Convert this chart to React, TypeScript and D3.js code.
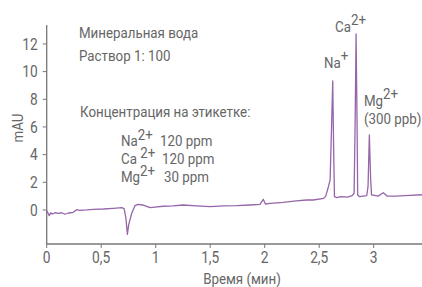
import * as d3 from 'd3';
import { useEffect } from 'react';
import type { ReactNode } from 'react';

const WIDTH = 422;
const HEIGHT = 287;

// retention time (min) and detector signal (mAU)
const times = [
  0, 0.024, 0.037, 0.05, 0.076, 0.107, 0.138, 0.168, 0.199, 0.244, 0.275, 0.3,
  0.367, 0.428, 0.52, 0.61, 0.688, 0.71, 0.727, 0.74, 0.752, 0.78, 0.81, 0.84,
  0.88, 0.948, 0.99, 1.07, 1.16, 1.25, 1.376, 1.5, 1.62, 1.74, 1.865, 1.957,
  1.987, 2.006, 2.05, 2.17, 2.29, 2.385, 2.446, 2.54, 2.56, 2.585, 2.6, 2.615,
  2.624, 2.633, 2.64, 2.66, 2.7, 2.76, 2.8, 2.82, 2.83, 2.838, 2.847, 2.853,
  2.87, 2.936, 2.948, 2.96, 2.972, 2.98, 2.997, 3.04, 3.088, 3.125, 3.2, 3.33,
  3.443,
];
const signal = [
  -0.05, -0.41, -0.2, -0.3, -0.2, -0.24, -0.2, -0.31, -0.22, -0.17, 0.02, -0.03,
  0.0, 0.05, 0.07, 0.12, 0.17, 0.1, -0.6, -1.76, -1.08, -0.24, 0.31, 0.41,
  0.36, 0.17, 0.2, 0.27, 0.3, 0.36, 0.29, 0.24, 0.29, 0.31, 0.36, 0.41,
  0.77, 0.43, 0.48, 0.55, 0.65, 0.72, 0.72, 0.84, 1.0, 1.7, 2.17, 6.5,
  9.33, 4.1, 0.96, 0.89, 0.96, 0.93, 1.03, 1.2, 6.5, 12.73, 6.5, 1.08,
  0.96, 1.03, 1.7, 5.42, 2.2, 1.08, 1.08, 1.0, 1.25, 1.0, 1.0, 1.06,
  1.1,
];

const xTicks = [0, 0.5, 1, 1.5, 2, 2.5, 3];
const yTicks = [0, 2, 4, 6, 8, 10, 12];

const labelIons = ['Na', 'Ca', 'Mg'];
const labelCharges = ['2+', '2+', '2+'];
const labelConc = ['120 ppm', '120 ppm', '30 ppm'];

const FONT = 'Roboto, "Noto Sans", sans-serif';
const TEXT = '#666';
const AXIS = '#777';
const LINE = '#9566a8';
const SQUEEZE = 0.86; // the original uses a condensed face

// text squeezed horizontally around its anchor point
function CText(props: {
  x: number;
  y: number;
  size: number;
  anchor?: 'start' | 'middle' | 'end';
  rotate?: number;
  children: ReactNode;
}) {
  const { x, y, size, anchor = 'start', rotate = 0, children } = props;
  return (
    <g transform={`translate(${x},${y}) rotate(${rotate}) scale(${SQUEEZE},1)`}>
      <text textAnchor={anchor} fontSize={size} fill={TEXT}>
        {children}
      </text>
    </g>
  );
}

export default function App() {
  useEffect(() => {
    document.body.style.margin = '0';
  }, []);

  const x = d3.scaleLinear().domain([0, 3.443]).range([46.7, WIDTH]);
  const y = d3.scaleLinear().domain([-2.46, 13.37]).range([244, 25]);

  const pts = times.map((t, i) => [t, signal[i]] as [number, number]);
  const line = d3
    .line<[number, number]>()
    .x((d) => x(d[0]))
    .y((d) => y(d[1]));

  const fmt = (v: number) => String(v).replace('.', ',');
  const concX = [160, 162, 164];

  return (
    <svg width={WIDTH} height={HEIGHT} style={{ display: 'block' }} fontFamily={FONT}>
      {/* axes */}
      <line x1={x(0)} x2={x(0)} y1={y.range()[1]} y2={y.range()[0]} stroke={AXIS} strokeWidth={1.3} />
      <line x1={x(0)} x2={WIDTH} y1={y.range()[0]} y2={y.range()[0]} stroke={AXIS} strokeWidth={1.3} />
      {yTicks.map((v) => (
        <g key={'y' + v}>
          <line x1={x(0) - 4} x2={x(0)} y1={y(v)} y2={y(v)} stroke={AXIS} strokeWidth={1} />
          <CText x={x(0) - 9} y={y(v) + 5.8} size={16} anchor="end">
            {v}
          </CText>
        </g>
      ))}
      {xTicks.map((v) => (
        <g key={'x' + v}>
          <line x1={x(v)} x2={x(v)} y1={y.range()[0]} y2={y.range()[0] + 4} stroke={AXIS} strokeWidth={1} />
          <CText x={x(v)} y={263} size={16} anchor="middle">
            {fmt(v)}
          </CText>
        </g>
      ))}
      <CText x={242} y={284} size={15.5} anchor="middle">
        Время (мин)
      </CText>
      <CText x={23} y={128} size={15.5} anchor="middle" rotate={-90}>
        mAU
      </CText>

      {/* trace */}
      <path d={line(pts) ?? ''} fill="none" stroke={LINE} strokeWidth={1.3} strokeLinejoin="round" />

      {/* annotations */}
      <CText x={79} y={38} size={15.5}>Минеральная вода</CText>
      <CText x={79} y={61} size={15.5}>Раствор 1: 100</CText>
      <CText x={80} y={117} size={15.5}>Концентрация на этикетке:</CText>
      {labelIons.map((ion, i) => (
        <g key={ion}>
          <CText x={121} y={146 + i * 17.8} size={15.5}>
            {ion}
            <tspan dx={i === 1 ? 4 : 0} dy={-6}>{labelCharges[i]}</tspan>
          </CText>
          <CText x={concX[i]} y={146 + i * 17.8} size={15.5}>
            {labelConc[i]}
          </CText>
        </g>
      ))}

      <CText x={324} y={68} size={15.5}>
        Na<tspan dy={-7}>+</tspan>
      </CText>
      <CText x={335} y={32} size={15.5}>
        Ca<tspan dy={-7}>2+</tspan>
      </CText>
      <CText x={364} y={106} size={15.5}>
        Mg<tspan dy={-7}>2+</tspan>
      </CText>
      <CText x={364} y={124} size={15.5}>(300 ppb)</CText>
    </svg>
  );
}
